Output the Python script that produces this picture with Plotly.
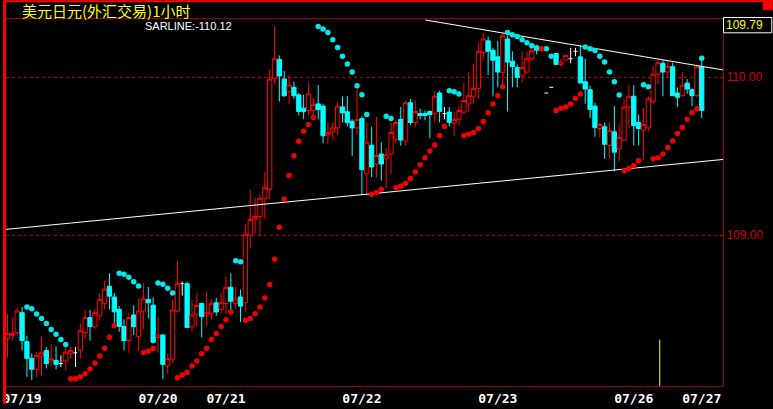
import plotly.graph_objects as go

# ---------------- data (hourly USD/JPY candles) ----------------
opens = [108.344, 108.364, 108.381, 108.508, 108.325, 108.219, 108.15, 108.233, 108.269, 108.202,
         108.206, 108.186, 108.202, 108.248, 108.254, 108.269, 108.383, 108.477, 108.419, 108.488,
         108.567, 108.675, 108.608, 108.529, 108.421, 108.331, 108.494, 108.358, 108.519, 108.592,
         108.556, 108.352, 108.367, 108.171, 108.213, 108.519, 108.692, 108.692, 108.419, 108.498,
         108.567, 108.492, 108.502, 108.571, 108.529, 108.567, 108.669, 108.567, 108.608, 108.571,
         108.998, 109.1, 109.117, 109.233, 109.289, 109.992, 110.113, 109.988, 109.908, 109.936,
         109.888, 109.804, 109.789, 109.789, 109.831, 109.817, 109.633, 109.654, 109.679, 109.811,
         109.781, 109.721, 109.679, 109.738, 109.388, 109.569, 109.45, 109.513, 109.483, 109.513,
         109.608, 109.733, 109.596, 109.838, 109.713, 109.769, 109.769, 109.783, 109.769, 109.9,
         109.769, 109.779, 109.706, 109.733, 109.779, 109.831, 109.879, 109.929, 110.158, 110.231,
         110.171, 110.129, 110.029, 110.242, 110.102, 110.061, 110.008, 110.033, 110.117, 110.192,
         110.171, 109.9, 109.936, 110.15, 110.081, 110.108, 110.117, 110.164, 110.129, 109.971,
         109.921, 109.817, 109.675, 109.686, 109.567, 109.654, 109.546, 109.602, 109.811, 109.879,
         109.713, 109.664, 109.679, 109.846, 110.019, 110.088, 110.033, 110.067, 109.9, 109.883,
         109.963, 109.921, 109.883, 110.067]
highs = [108.5, 108.477, 108.539, 108.544, 108.363, 108.25, 108.258, 108.358, 108.29, 108.306,
         108.294, 108.238, 108.29, 108.294, 108.29, 108.439, 108.523, 108.525, 108.529, 108.633,
         108.711, 108.758, 108.633, 108.55, 108.467, 108.508, 108.554, 108.596, 108.696, 108.671,
         108.606, 108.483, 108.373, 108.248, 108.588, 108.838, 108.706, 108.706, 108.588, 108.633,
         108.571, 108.644, 108.592, 108.602, 108.633, 108.738, 108.758, 108.675, 108.654, 109.067,
         109.286, 109.238, 109.254, 109.4, 110.05, 110.321, 110.138, 110.039, 110.013, 109.971,
         109.9, 109.888, 109.963, 109.869, 109.95, 109.831, 109.713, 109.713, 109.846, 109.879,
         109.881, 109.733, 109.942, 109.754, 109.713, 109.686, 109.748, 109.588, 109.55, 109.713,
         109.733, 109.811, 109.852, 109.863, 109.852, 109.8, 109.789, 109.789, 109.914, 109.914,
         109.811, 109.811, 109.783, 109.817, 109.963, 110.033, 110.081, 110.217, 110.279, 110.258,
         110.186, 110.231, 110.279, 110.263, 110.164, 110.081, 110.164, 110.164, 110.2, 110.2,
         110.194, 109.9, 109.936, 110.15, 110.117, 110.138, 110.186, 110.186, 110.2, 110.117,
         109.946, 109.838, 109.713, 109.713, 109.713, 109.817, 109.7, 109.863, 109.95, 109.95,
         109.763, 109.804, 109.879, 110.067, 110.117, 110.108, 110.108, 110.092, 109.936, 110.033,
         109.988, 109.929, 110.081, 110.102]
lows = [108.225, 108.331, 108.363, 108.269, 108.102, 108.081, 108.102, 108.108, 108.154, 108.171,
        108.15, 108.164, 108.144, 108.217, 108.164, 108.217, 108.344, 108.331, 108.404, 108.463,
        108.529, 108.529, 108.425, 108.388, 108.269, 108.254, 108.367, 108.269, 108.404, 108.471,
        108.313, 108.254, 108.088, 108.119, 108.192, 108.508, 108.617, 108.413, 108.388, 108.421,
        108.352, 108.421, 108.467, 108.488, 108.502, 108.498, 108.508, 108.529, 108.45, 108.513,
        108.914, 109.008, 108.994, 109.102, 109.227, 109.956, 109.846, 109.875, 109.831, 109.863,
        109.758, 109.733, 109.758, 109.748, 109.733, 109.581, 109.575, 109.602, 109.633, 109.713,
        109.688, 109.502, 109.633, 109.254, 109.258, 109.367, 109.363, 109.346, 109.296, 109.388,
        109.581, 109.567, 109.567, 109.696, 109.681, 109.733, 109.727, 109.613, 109.717, 109.713,
        109.733, 109.688, 109.629, 109.696, 109.763, 109.779, 109.831, 109.863, 110.113, 110.013,
        109.879, 109.936, 109.936, 109.783, 109.936, 109.936, 109.967, 110.019, 110.1, 110.144,
        110.163, 109.9, 109.936, 110.081, 110.067, 110.108, 110.088, 110.133, 109.963, 109.831,
        109.742, 109.623, 109.619, 109.483, 109.483, 109.404, 109.467, 109.594, 109.675, 109.567,
        109.567, 109.477, 109.654, 109.831, 109.956, 109.879, 109.998, 109.881, 109.811, 109.875,
        109.894, 109.817, 109.875, 109.742]
closes = [108.375, 108.377, 108.519, 108.331, 108.219, 108.15, 108.238, 108.254, 108.186, 108.217,
          108.181, 108.186, 108.258, 108.269, 108.254, 108.394, 108.477, 108.421, 108.508, 108.592,
          108.658, 108.613, 108.514, 108.421, 108.331, 108.477, 108.419, 108.519, 108.596, 108.571,
          108.321, 108.367, 108.181, 108.217, 108.525, 108.692, 108.692, 108.414, 108.494, 108.554,
          108.483, 108.508, 108.567, 108.513, 108.571, 108.669, 108.581, 108.596, 108.55, 109.004,
          109.098, 109.117, 109.233, 109.3, 109.988, 110.117, 110.008, 109.883, 109.95, 109.883,
          109.783, 109.783, 109.894, 109.825, 109.796, 109.629, 109.65, 109.679, 109.817, 109.775,
          109.713, 109.679, 109.733, 109.414, 109.588, 109.431, 109.504, 109.45, 109.508, 109.65,
          109.713, 109.602, 109.838, 109.713, 109.783, 109.758, 109.758, 109.763, 109.879, 109.783,
          109.769, 109.713, 109.733, 109.789, 109.852, 109.883, 109.929, 110.164, 110.242, 110.164,
          110.108, 110.033, 110.263, 110.096, 110.067, 109.998, 110.061, 110.117, 110.171, 110.171,
          110.186, 109.9, 109.936, 110.081, 110.096, 110.138, 110.117, 110.164, 109.963, 109.925,
          109.796, 109.681, 109.7, 109.575, 109.664, 109.525, 109.617, 109.811, 109.879, 109.694,
          109.675, 109.7, 109.863, 110.019, 110.092, 110.033, 110.067, 109.883, 109.873, 109.95,
          109.925, 109.883, 110.067, 109.79]
# parabolic SAR values (None where not yet defined)
sar = [None, None, None, None,
       108.544, 108.533, 108.5, 108.471, 108.439, 108.402, 108.371, 108.339, 108.306,
       108.089, 108.089, 108.102, 108.121, 108.152, 108.19, 108.233, 108.283, 108.352, 108.425,
       108.758, 108.752, 108.733, 108.704, 108.677,
       108.256, 108.264, 108.281,
       108.696, 108.689, 108.663, 108.633,
       108.096, 108.114, 108.131, 108.171, 108.202, 108.248, 108.283, 108.339, 108.375, 108.421,
       108.463, 108.513,
       108.838, 108.831,
       108.461, 108.471, 108.502, 108.544, 108.602, 108.686, 108.846, 109.05, 109.227, 109.377,
       109.502, 109.594, 109.658, 109.7, 109.744,
       110.321, 110.306, 110.283, 110.238, 110.189, 110.133, 110.083, 110.033, 109.946, 109.889,
       109.764,
       109.258, 109.269, 109.289,
       109.752, 109.739,
       109.3, 109.311, 109.327, 109.358, 109.4, 109.446, 109.489, 109.533, 109.571, 109.631, 109.689,
       109.914, 109.908, 109.894,
       109.631, 109.638, 109.65, 109.675, 109.719, 109.775, 109.831, 109.883, 109.939,
       110.283, 110.269, 110.258, 110.238, 110.219, 110.2, 110.186, 110.181, 110.181, 110.133,
       109.789, 109.804, 109.811, 109.831, 109.867, 109.894,
       110.191, 110.181, 110.169, 110.133, 110.096, 110.033, 109.971, 109.888,
       109.408, 109.421, 109.439, 109.471,
       109.952, 109.939,
       109.483, 109.489, 109.513, 109.554, 109.596, 109.644, 109.681, 109.733, 109.775, 109.8,
       110.12]

date_tick_pos = [3, 31, 45, 73, 101, 129, 143]
date_tick_text = ["07/19", "07/20", "07/21", "07/22", "07/23", "07/26", "07/27"]
price_ticks = [109.0, 110.0]
price_tick_text = ["109.00", "110.00"]

# hand-drawn trend lines (bar index, price)
trend_low_x = [-0.31, 147.4]
trend_low_y = [109.036, 109.479]
trend_high_x = [86.05, 147.4]
trend_high_y = [110.3625, 110.046]

title_text = "美元日元(外汇交易)1小时"
sar_last = 110.12
last_price = closes[-1]

x_range = [-0.31, 147.38]
y_range = [108.0437, 110.3688]

# ---------------- build ----------------
n = len(opens)
assert n == len(highs) == len(lows) == len(closes) == len(sar)
idx = list(range(n))

RED = "#ff0000"
CYAN = "#00ffff"
DARK = "#a00000"

c_o, c_h, c_l, c_c = [], [], [], []
dj_x, dj_y = [], []
for i in idx:
    o, h, l, c = opens[i], highs[i], lows[i], closes[i]
    if o == c:
        c_o.append(None); c_h.append(None); c_l.append(None); c_c.append(None)
        if h != l:
            dj_x += [i, i, None]
            dj_y += [l, h, None]
        dj_x += [i - 0.4, i + 0.4, None]
        dj_y += [o, o, None]
    else:
        c_o.append(o); c_h.append(h); c_l.append(l); c_c.append(c)

fig = go.Figure()

fig.add_trace(go.Scatter(x=trend_low_x, y=trend_low_y, mode="lines",
                         line=dict(color="white", width=1), hoverinfo="skip", showlegend=False))
fig.add_trace(go.Scatter(x=trend_high_x, y=trend_high_y, mode="lines",
                         line=dict(color="white", width=1), hoverinfo="skip", showlegend=False))

fig.add_trace(go.Candlestick(
    x=idx, open=c_o, high=c_h, low=c_l, close=c_c,
    increasing=dict(line=dict(color=RED, width=1), fillcolor="#000000"),
    decreasing=dict(line=dict(color=CYAN, width=1), fillcolor=CYAN),
    whiskerwidth=0, hoverinfo="skip", showlegend=False))

fig.add_trace(go.Scatter(x=dj_x, y=dj_y, mode="lines",
                         line=dict(color="white", width=1), hoverinfo="skip", showlegend=False))

sx_up, sy_up, sx_dn, sy_dn = [], [], [], []
for i in idx:
    s = sar[i]
    if s is None:
        continue
    if s > closes[i]:
        sx_up.append(i); sy_up.append(s)
    else:
        sx_dn.append(i); sy_dn.append(s)

fig.add_trace(go.Scatter(x=sx_up, y=sy_up, mode="markers",
                         marker=dict(symbol="circle", size=5.5, color="#00e8e8", line=dict(width=0)),
                         hoverinfo="skip", showlegend=False))
fig.add_trace(go.Scatter(x=sx_dn, y=sy_dn, mode="markers",
                         marker=dict(symbol="circle", size=5.5, color="#f00000", line=dict(width=0)),
                         hoverinfo="skip", showlegend=False))

W, H = 773, 409
L, R, T, B = 3, 50, 19, 18
pw, ph = W - L - R, H - T - B


def px(xp):
    return (xp - L) / pw


def py(yp):
    return (H - B - yp) / ph


shapes = [
    dict(type="rect", xref="paper", yref="paper", x0=px(0), x1=px(3), y0=py(409), y1=py(0),
         fillcolor=RED, line=dict(width=0), layer="above"),
    dict(type="rect", xref="paper", yref="paper", x0=px(0), x1=px(773), y0=py(2), y1=py(0),
         fillcolor=RED, line=dict(width=0), layer="above"),
    dict(type="rect", xref="paper", yref="paper", x0=px(763), x1=px(773), y0=py(10), y1=py(0),
         fillcolor=RED, line=dict(width=0), layer="above"),
    dict(type="rect", xref="paper", yref="paper", x0=px(723.5), x1=px(772), y0=py(33), y1=py(17.5),
         fillcolor="#000000", line=dict(color="white", width=1), layer="above"),
    dict(type="line", xref="paper", yref="paper", x0=px(659.5), x1=px(659.5), y0=py(391), y1=py(344),
         line=dict(color="#ffff00", width=1), layer="above"),
]

annotations = [
    dict(text=title_text, xref="paper", yref="paper", x=px(17), y=py(10.5), xanchor="left",
         yanchor="middle", showarrow=False, font=dict(family="Noto Sans CJK SC", size=15, color="#ffff00")),
    dict(text=f"SARLINE:-{sar_last:.2f}", xref="paper", yref="paper", x=px(141), y=py(26.5),
         xanchor="left", yanchor="middle", showarrow=False,
         font=dict(family="Liberation Sans", size=11, color="white")),
    dict(text=f"{last_price:.2f}", xref="paper", yref="paper", x=px(745), y=py(25.5),
         xanchor="center", yanchor="middle", showarrow=False,
         font=dict(family="Liberation Sans", size=12, color="#ffff00")),
]

fig.update_layout(
    width=W, height=H,
    margin=dict(l=L, r=R, t=T, b=B, pad=0),
    paper_bgcolor="#000000", plot_bgcolor="#000000",
    showlegend=False, boxgap=0.12, boxgroupgap=0, hovermode=False,
    shapes=shapes, annotations=annotations,
    xaxis=dict(range=x_range, showgrid=False, zeroline=False, showline=True, linecolor=DARK,
               linewidth=1, mirror=True, ticks="", tickmode="array", tickvals=date_tick_pos,
               ticktext=date_tick_text, ticklabeloverflow="allow",
               tickfont=dict(family="DejaVu Sans Mono", size=13, color="white", weight="bold"),
               rangeslider=dict(visible=False), fixedrange=True),
    yaxis=dict(range=y_range, side="right", showgrid=True, gridcolor="#b40000", gridwidth=1,
               griddash="3px,3px", zeroline=False, showline=True, linecolor=DARK, linewidth=1,
               ticks="", tickmode="array", tickvals=price_ticks, ticktext=price_tick_text,
               tickfont=dict(family="Liberation Sans", size=12, color="#d00000"), fixedrange=True),
)

fig.write_html("out.html", config={"displayModeBar": False},
               post_script="document.body.style.margin='0px';document.body.style.background='#000';")
